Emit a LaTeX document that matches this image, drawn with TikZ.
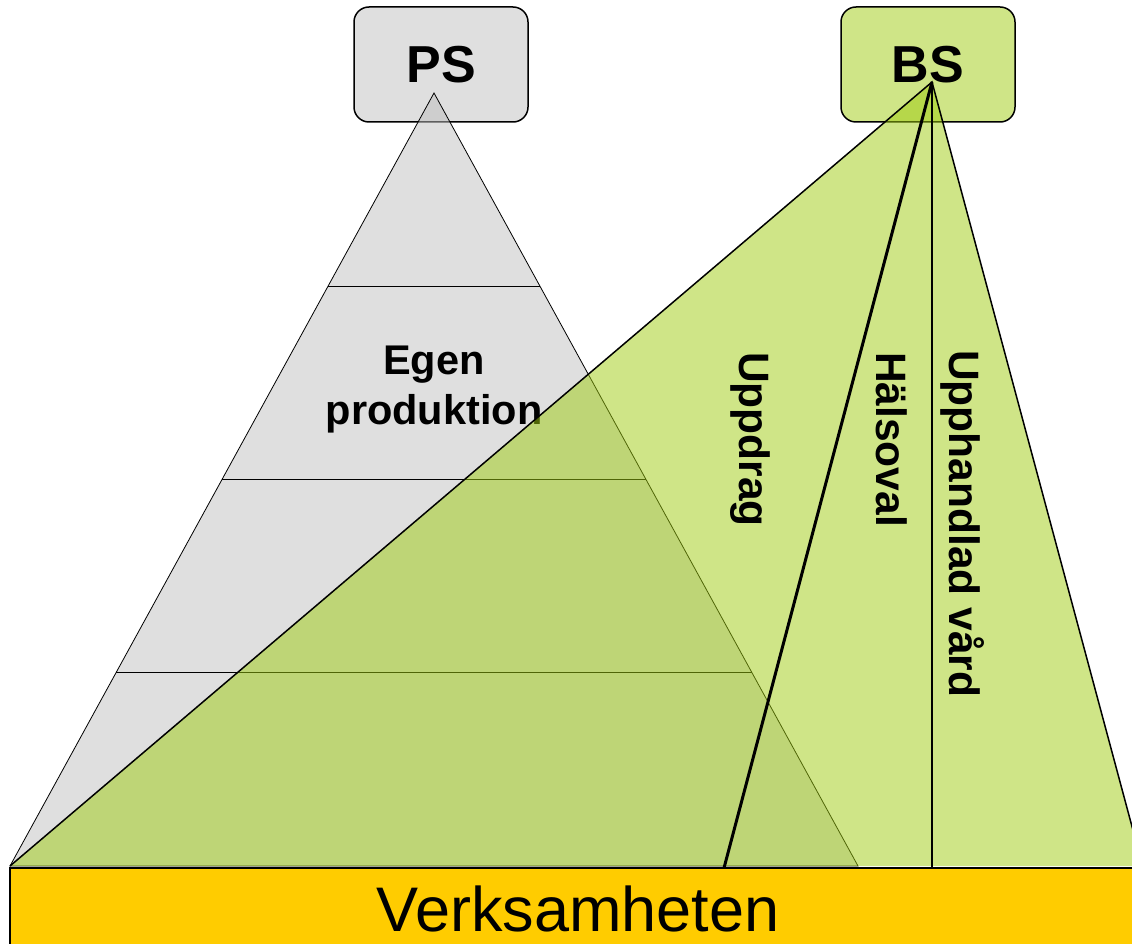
\documentclass[tikz,border=0pt]{standalone}
\usepackage{fontspec}
\setmainfont{Liberation Sans}
\usetikzlibrary{calc}

\definecolor{psgray}{RGB}{191,191,191}
\definecolor{boxgray}{RGB}{223,223,223}
\definecolor{bsgreen}{RGB}{159,203,15}
\definecolor{boxgreen}{RGB}{207,229,135}
\definecolor{gold}{RGB}{255,204,0}

\begin{document}
\begin{tikzpicture}
[
x=1pt, y=-1pt,
topbox/.style={draw, line width=1.5pt, rounded corners=15pt, minimum width=174pt, minimum height=115pt, font=\fontsize{52}{52}\selectfont\bfseries},
sidelabel/.style={rotate=-90, anchor=west, inner sep=0pt, font=\fontsize{42.5}{42.5}\selectfont\bfseries}
]
\useasboundingbox (0,0) rectangle (1132,944);
\clip (0,0) rectangle (1132,944);

\node (ps) [topbox, fill=boxgray] at (441,64.5) {PS};
\node (bs) [topbox, fill=boxgreen] at (928,64.5) {BS};

\coordinate (psapex) at (434,93);
\coordinate (psleft) at (10,866);
\coordinate (psright) at (858,866);
\coordinate (bsapex) at (932,82);
\coordinate (bsright) at (1142.6,866);
\coordinate (uppfoot) at (724,868);

% egen produktion
\filldraw[fill=psgray, fill opacity=0.5, line width=0.8pt] (psapex) -- (psleft) -- (psright) -- cycle;
\foreach \t in {0.25,0.5,0.75}
  \draw[line width=0.8pt] ($(psapex)!\t!(psleft)$) -- ($(psapex)!\t!(psright)$);
\node (egen) [font=\fontsize{41.5}{50}\selectfont\bfseries, align=center, inner sep=0pt] at (434,390) {Egen\\produktion};

% beställare
\fill[bsgreen, fill opacity=0.5] (bsapex) -- (psleft) -- (bsright) -- cycle;
\draw[line width=1.5pt] (psleft) -- (bsapex) -- (bsright);
\draw[line width=3pt] (bsapex) -- (uppfoot);
\draw[line width=2pt] (bsapex) -- (bsapex |- uppfoot);

\node (uppdrag) [sidelabel] at (750,352) {Uppdrag};
\node (halsoval) [sidelabel] at (892,352) {Hälsoval};
\node (upphandlad) [sidelabel] at (963,350) {Upphandlad vård};

\fill[gold] (10,868) rectangle (1140,950);
\draw[line width=1.5pt] (10,950) -- (10,868) -- (1140,868);
\node (verks) [font=\fontsize{63}{63}\selectfont, inner sep=0pt] at (578,909) {Verksamheten};
\end{tikzpicture}
\end{document}
